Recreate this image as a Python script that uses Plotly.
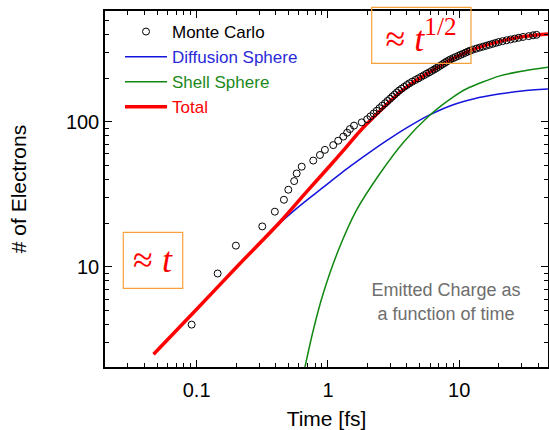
import plotly.graph_objects as go

# ---------------- data ----------------
mc_time = [0.0916, 0.1445, 0.199, 0.316, 0.394, 0.462, 0.499, 0.553, 0.578, 0.631,
           0.773, 0.869, 0.948, 1.097, 1.197, 1.31, 1.40, 1.47, 1.58, 1.81,
           1.99, 2.11, 2.23, 2.35, 2.47, 2.59, 2.72, 2.84, 2.97, 3.09,
           3.22, 3.35, 3.48, 3.64, 3.81, 3.99, 4.17, 4.39, 4.64, 4.88,
           5.13, 5.38, 5.64, 5.91, 6.18, 6.44, 6.69, 6.94, 7.20, 7.46,
           7.72, 7.99, 8.27, 8.57, 8.98, 9.38, 9.81, 10.24, 10.69, 11.15,
           11.62, 12.10, 12.69, 13.48, 14.29, 15.15, 16.03, 16.96, 17.93, 18.93,
           19.97, 21.34, 22.95, 24.65, 26.48, 28.38, 30.6, 33.8, 36.5, 38.8]
mc_count = [4, 9, 14, 19, 24, 29, 34, 39, 44, 49,
            54, 59, 64, 69, 74, 79, 84, 89, 94, 99,
            104, 109, 114, 119, 124, 129, 134, 139, 144, 149,
            154, 159, 164, 169, 174, 179, 184, 189, 194, 199,
            204, 209, 214, 219, 224, 229, 234, 239, 244, 249,
            254, 259, 264, 269, 274, 279, 284, 289, 294, 299,
            304, 309, 314, 319, 324, 329, 334, 339, 344, 349,
            354, 359, 364, 369, 374, 379, 384, 389, 394, 397]

diff_time = [0.047, 0.1, 0.2, 0.3, 0.43, 0.6, 0.8, 1.0, 1.4, 2.0, 2.8, 4.0,
             5.9, 9.0, 13.0, 20.0, 30.0, 47.4]
diff_count = [2.5, 5.1, 9.9, 14.5, 20.0, 26.0, 32.0, 37.5, 47.5, 60.0, 74.0, 91.0,
              111.0, 131.0, 144.0, 155.0, 163.0, 168.0]

shell_time = [0.665, 0.773, 0.92, 1.2, 1.65, 2.49, 3.75, 5.9, 8.8, 11.3, 20.4, 30.0, 47.4]
shell_count = [2.0, 3.66, 6.55, 13.0, 24.6, 44.0, 72.0, 110.0, 146.0, 168.0, 207.0, 223.0, 237.0]

total_time = [0.047, 0.1, 0.2, 0.43, 0.7, 1.0, 1.4, 1.75, 2.5, 3.5, 4.5, 6.3,
              8.5, 12.4, 20.4, 30.0, 47.4]
total_count = [2.5, 5.1, 9.9, 20.3, 33.5, 48.0, 68.0, 86.0, 119.0, 158.0, 188.0, 226.0,
               266.0, 312.0, 358.0, 385.0, 402.0]

x_tick_vals = [0.1, 1, 10]
x_tick_text = ["0.1", "1", "10"]
y_tick_vals = [10, 100]
y_tick_text = ["10", "100"]

# ---------------- layout helpers ----------------
W, H = 549, 430
ML, MR, MT, MB = 105, 1, 11, 63
PW, PH = W - ML - MR, H - MT - MB


def px(x):
    return (x - ML) / PW


def py(y):
    return (H - MB - y) / PH


BLUE = "#1414dc"
GREEN = "#118811"
RED = "#ff0000"

fig = go.Figure()

fig.add_trace(go.Scatter(
    x=diff_time, y=diff_count, mode="lines", line=dict(color=BLUE, width=1.5, shape="spline", smoothing=0.8),
    name='<span style="color:#2a2ad8">Diffusion Sphere</span>', legendrank=2))
fig.add_trace(go.Scatter(
    x=shell_time, y=shell_count, mode="lines", line=dict(color=GREEN, width=1.5, shape="spline", smoothing=0.8),
    name='<span style="color:#1b8a1b">Shell Sphere</span>', legendrank=3))
fig.add_trace(go.Scatter(
    x=total_time, y=total_count, mode="lines", line=dict(color=RED, width=3.5, shape="spline", smoothing=0.8),
    name='<span style="color:#ff0000">Total</span>', legendrank=4))
fig.add_trace(go.Scatter(
    x=mc_time, y=mc_count, mode="markers",
    marker=dict(symbol="circle-open", size=7, color="black", line=dict(width=1, color="black")),
    name="Monte Carlo", legendrank=1))

minor_x = [m * 10 ** e for e in range(-2, 2) for m in range(2, 10)]
minor_y = [m * 10 ** e for e in range(0, 3) for m in range(2, 10)]

axis_common = dict(
    type="log", showline=True, linecolor="black", linewidth=1.5, mirror="ticks",
    ticks="inside", ticklen=7, tickwidth=1.2, tickcolor="black", showgrid=False,
    zeroline=False, automargin=False,
    tickfont=dict(family="Liberation Sans, Arial", size=20, color="black"),
)

fig.update_xaxes(
    **axis_common, range=[-1.698, 1.676], tickmode="array", tickvals=x_tick_vals, ticktext=x_tick_text,
    ticklabelstandoff=4,
    minor=dict(tickmode="array", tickvals=minor_x, ticks="inside", ticklen=4, tickcolor="black", tickwidth=1),
    title=dict(text="Time [fs]", font=dict(family="Liberation Sans, Arial", size=21, color="black"), standoff=12),
)
fig.update_yaxes(
    **axis_common, range=[0.31, 2.763], tickmode="array", tickvals=y_tick_vals, ticktext=y_tick_text,
    minor=dict(tickmode="array", tickvals=minor_y, ticks="inside", ticklen=4, tickcolor="black", tickwidth=1),
    title=dict(text="# of Electrons", font=dict(family="Liberation Sans, Arial", size=21, color="black"), standoff=34),
)

BOX = "#f7a13a"
fig.add_shape(type="rect", xref="paper", yref="paper", x0=px(123.3), x1=px(182.7), y0=py(288.3), y1=py(232.3),
              line=dict(color=BOX, width=1.2))
fig.add_shape(type="rect", xref="paper", yref="paper", x0=px(371.7), x1=px(471), y0=py(63.3), y1=py(7.3),
              line=dict(color=BOX, width=1.2))

fig.add_annotation(xref="paper", yref="paper", x=px(153), y=py(260), showarrow=False,
                   xanchor="center", yanchor="middle", width=56, height=50, align="center", valign="middle",
                   text="≈ <i>t</i>", font=dict(family="Liberation Serif", size=36, color=RED))
fig.add_annotation(xref="paper", yref="paper", x=px(421), y=py(36), showarrow=False,
                   xanchor="center", yanchor="middle", width=96, height=52, align="center", valign="middle",
                   text="≈ <i>t</i><sup>1/2</sup>", font=dict(family="Liberation Serif", size=36, color=RED))
fig.add_annotation(xref="paper", yref="paper", x=px(446), y=py(302), showarrow=False,
                   xanchor="center", yanchor="middle", width=170, height=46, align="center", valign="middle",
                   text="Emitted Charge as<br>a function of time",
                   font=dict(family="Liberation Sans, Arial", size=18, color="#6e6e6e"))

fig.update_layout(
    width=W, height=H, margin=dict(l=ML, r=MR, t=MT, b=MB),
    paper_bgcolor="white", plot_bgcolor="white",
    legend=dict(x=px(120), y=py(14), xanchor="left", yanchor="top", bgcolor="rgba(0,0,0,0)",
                font=dict(family="Liberation Sans, Arial", size=17, color="black"),
                traceorder="normal", itemwidth=42),
)

fig.write_html("out.html", config={"displayModeBar": False},
               post_script="document.body.style.margin='0';document.body.style.padding='0';")
